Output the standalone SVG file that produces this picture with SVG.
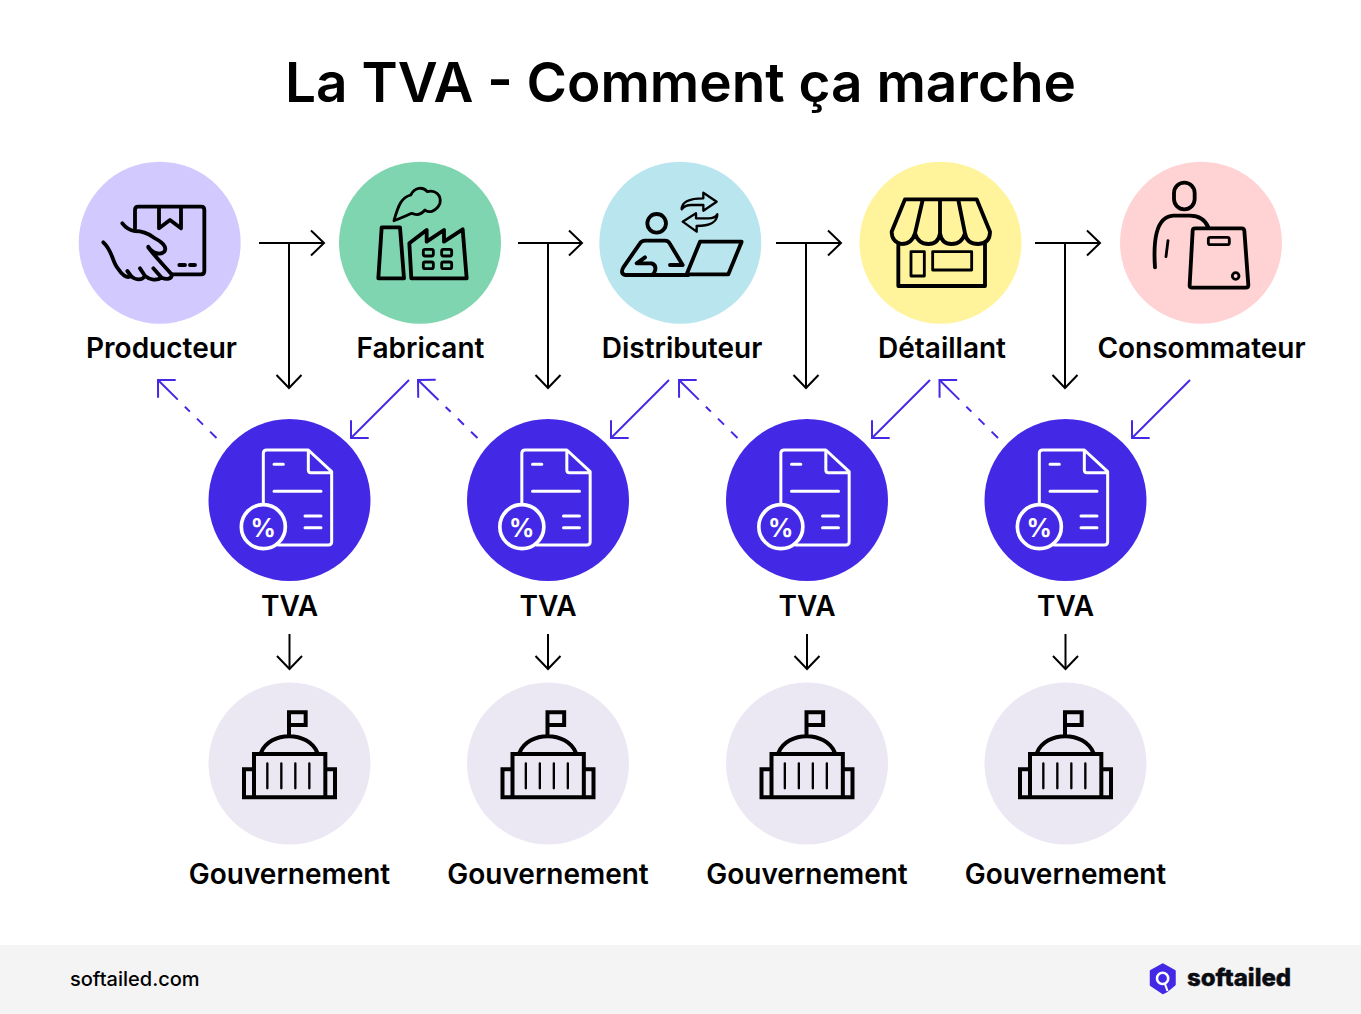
<svg xmlns="http://www.w3.org/2000/svg" width="1361" height="1014" viewBox="0 0 1361 1014">
<style>
text{font-family:Inter,"Liberation Sans",sans-serif;fill:#000}
.t{font-size:54.900px;font-weight:600;text-anchor:middle}
.l{font-size:28px;font-weight:600;text-anchor:middle}
.ic{fill:none;stroke:#000;stroke-width:11.500;stroke-linecap:round;stroke-linejoin:round}
.th{stroke-width:8.500}
.w{fill:none;stroke:#fff;stroke-width:9;stroke-linecap:round;stroke-linejoin:round}
.k{fill:none;stroke:#000;stroke-width:2}
.b{fill:none;stroke:#4329e6;stroke-width:2}
.d{stroke-dasharray:9 10 8.500 10 7 10 100}
.p{font-size:25px;font-weight:700;text-anchor:middle}
</style>
<defs>
<g id="tvaIcon" transform="translate(150 370) scale(.33333)">
<path class="w" d="M340 400V250Q340 240 350 240H475L545 305V515Q545 525 535 525H385M475 240V300Q475 308 483 308H545M372 283H400M372 364H513M465 438H513M465 473H513"/>
<circle class="w" style="stroke-width:11" cx="340" cy="470" r="66"/>
</g>
<g id="govIcon" transform="translate(200 680) scale(.33333)">
<path class="ic" style="stroke-linejoin:miter;stroke-linecap:butt;stroke-width:12" d="M267 170V97H317V135H267M183 218C210 152 325 152 352 218M162 222H376V352H162ZM162 268H132V352H405V268H376"/>
<path class="ic" style="stroke-width:7" d="M202 250V325M244 250V325M286 250V325M328 250V325"/>
</g>
<marker id="mk" viewBox="-14 -14 16 28" markerWidth="16" markerHeight="28" refX="0" refY="0" orient="auto" markerUnits="userSpaceOnUse"><path d="M-13 -12.500L0 0L-13 12.500" fill="none" stroke="#000" stroke-width="2"/></marker>
<marker id="mb" viewBox="-14 -14 16 28" markerWidth="16" markerHeight="28" refX="0" refY="0" orient="auto" markerUnits="userSpaceOnUse"><path d="M-12.500 -12.500L0 0L-12.500 12.500" fill="none" stroke="#4329e6" stroke-width="2"/></marker>
</defs>
<rect width="1361" height="1014" fill="#fff"/>
<text class="t" x="680.500" y="102">La TVA - Comment ça marche</text>

<g id="connectors">
<path class="k" marker-end="url(#mk)" d="M259 243H324"/><path class="k" marker-end="url(#mk)" d="M289 243V388"/>
<path class="k" marker-end="url(#mk)" d="M518 243H582"/><path class="k" marker-end="url(#mk)" d="M548 243V388"/>
<path class="k" marker-end="url(#mk)" d="M776 243H841"/><path class="k" marker-end="url(#mk)" d="M806 243V388"/>
<path class="k" marker-end="url(#mk)" d="M1035 243H1100"/><path class="k" marker-end="url(#mk)" d="M1065 243V388"/>
<path class="k" marker-end="url(#mk)" d="M289.500 634V669"/>
<path class="k" marker-end="url(#mk)" d="M548 634V669"/>
<path class="k" marker-end="url(#mk)" d="M807 634V669"/>
<path class="k" marker-end="url(#mk)" d="M1065.500 634V669"/>
<path class="b" marker-end="url(#mb)" d="M409 380L351 438"/>
<path class="b" marker-end="url(#mb)" d="M669 380L611 438"/>
<path class="b" marker-end="url(#mb)" d="M930 380L872 438"/>
<path class="b" marker-end="url(#mb)" d="M1190 380L1132 438"/>
<path class="b d" marker-end="url(#mb)" d="M216.500 438L158 380"/>
<path class="b d" marker-end="url(#mb)" d="M477.500 438L418 380"/>
<path class="b d" marker-end="url(#mb)" d="M737.500 438L679 380"/>
<path class="b d" marker-end="url(#mb)" d="M998 438L939.500 380"/>
</g>

<g id="producteur">
<circle cx="159.700" cy="242.700" r="81" fill="#d2c9ff"/>
<g transform="translate(95 195) scale(.33333)">
<path class="ic" d="M120 100V45Q120 35 130 35H318Q328 35 328 45V228Q328 238 318 238H232M192 38V100L225 75L258 100V38M253 210H270M285 210H300"/>
<path class="ic" d="M82 85C95 102 105 106 120 108C140 108 155 112 175 127C200 140 218 155 208 170C195 182 172 175 160 155M160 158C185 190 210 215 230 238C232 252 215 255 200 248L175 220M200 248C185 258 165 255 150 243L135 220M150 243C140 258 120 255 108 243L97 228M108 243C95 252 80 238 70 222C50 200 55 170 25 142"/>
</g>
<text class="l" x="161.500" y="358">Producteur</text>
</g>

<g id="fabricant">
<circle cx="420" cy="242.700" r="81" fill="#7fd5af"/>
<g transform="translate(70 150) scale(.33333)">
<path class="ic" d="M935 232H990L1002 385H925ZM1018 280L1070 240V275L1122 240V275L1178 238L1190 385H1024Z"/>
<path class="ic th" d="M972 212C985 165 995 142 1022 135C1035 110 1060 110 1072 125C1095 118 1115 135 1110 160C1100 185 1075 190 1065 180C1050 198 1035 195 1025 190C1005 200 990 205 972 212Z"/>
<rect class="ic th" x="1060" y="298" width="30" height="20" rx="5"/><rect class="ic th" x="1115" y="298" width="30" height="20" rx="5"/><rect class="ic th" x="1060" y="336" width="30" height="20" rx="5"/><rect class="ic th" x="1115" y="336" width="30" height="20" rx="5"/>
</g>
<text class="l" x="420.500" y="358">Fabricant</text>
</g>

<g id="distributeur">
<circle cx="680.300" cy="242.700" r="81" fill="#b9e5ee"/>
<g transform="translate(590 150) scale(.33333)">
<circle class="ic" cx="200" cy="220" r="28"/>
<path class="ic" d="M105 375Q90 370 100 352L150 280Q155 272 165 272H225Q235 272 240 282L278 345H240M105 375H295M165 322L140 340H185Q200 345 195 362Q192 375 180 375M330 275H455L415 373H290Z"/>
<path class="ic" style="stroke-width:7" d="M275 178C275 155 300 145 340 145V128L380 155L340 182V165H305C290 165 280 170 275 178ZM382 193C382 215 360 228 320 228V245L278 215L318 190V205H355C370 205 378 200 382 193Z"/>
</g>
<text class="l" x="682" y="358">Distributeur</text>
</g>

<g id="detaillant">
<circle cx="940.500" cy="242.700" r="81" fill="#fff39b"/>
<g transform="translate(590 150) scale(.33333)">
<path class="ic" d="M945 148H1160L1200 245Q1200 280 1165 282Q1130 282 1125 250Q1115 282 1085 282Q1055 282 1050 250Q1045 282 1015 282Q985 282 975 250Q965 282 935 282Q905 275 905 245ZM998 150L975 250M1050 150V250M1105 150L1125 250M925 282V408H1185V282"/>
<rect class="ic th" x="963" y="305" width="40" height="73"/><rect class="ic th" x="1028" y="305" width="117" height="55"/>
</g>
<text class="l" x="942" y="358">Détaillant</text>
</g>

<g id="consommateur">
<circle cx="1201" cy="242.700" r="81" fill="#ffd3d3"/>
<g transform="translate(1030 150) scale(.33333)">
<rect class="ic" x="432" y="98" width="62" height="80" rx="31"/>
<path class="ic" d="M375 352C370 280 375 200 430 197H480Q520 197 535 232M495 235H635Q642 235 643 242L655 405Q655 413 647 413H486Q478 413 479 405L488 242Q488 235 495 235Z"/>
<path class="ic th" d="M414 272L408 320"/>
<rect class="ic th" x="535" y="262" width="63" height="22" rx="6"/><circle class="ic th" cx="617" cy="378" r="10"/>
</g>
<text class="l" x="1201.500" y="358">Consommateur</text>
</g>

<g id="tva1"><circle cx="289.500" cy="500" r="81" fill="#4329e6"/><use href="#tvaIcon"/><text class="p" x="263.300" y="537" style="fill:#fff">%</text><text class="l" x="289.500" y="616">TVA</text></g>
<g id="tva2"><circle cx="548" cy="500" r="81" fill="#4329e6"/><use href="#tvaIcon" x="258.500"/><text class="p" x="521.800" y="537" style="fill:#fff">%</text><text class="l" x="548" y="616">TVA</text></g>
<g id="tva3"><circle cx="807" cy="500" r="81" fill="#4329e6"/><use href="#tvaIcon" x="517.500"/><text class="p" x="780.800" y="537" style="fill:#fff">%</text><text class="l" x="807" y="616">TVA</text></g>
<g id="tva4"><circle cx="1065.500" cy="500" r="81" fill="#4329e6"/><use href="#tvaIcon" x="776"/><text class="p" x="1039.300" y="537" style="fill:#fff">%</text><text class="l" x="1065.500" y="616">TVA</text></g>

<g id="gov1"><circle cx="289.500" cy="763.500" r="81" fill="#ebe8f4"/><use href="#govIcon"/><text class="l" x="289.500" y="884">Gouvernement</text></g>
<g id="gov2"><circle cx="548" cy="763.500" r="81" fill="#ebe8f4"/><use href="#govIcon" x="258.500"/><text class="l" x="548" y="884">Gouvernement</text></g>
<g id="gov3"><circle cx="807" cy="763.500" r="81" fill="#ebe8f4"/><use href="#govIcon" x="517.500"/><text class="l" x="807" y="884">Gouvernement</text></g>
<g id="gov4"><circle cx="1065.500" cy="763.500" r="81" fill="#ebe8f4"/><use href="#govIcon" x="776"/><text class="l" x="1065.500" y="884">Gouvernement</text></g>

<g id="footer">
<rect y="945" width="1361" height="69" fill="#f4f4f4"/>
<text x="70" y="986" font-size="20" font-weight="500">softailed.com</text>
<path d="M1162.800 964.500L1174.500 971V984.500L1166 991.500L1163 993L1151 985V971Z" fill="#4329e6" stroke="#4329e6" stroke-width="2.500" stroke-linejoin="round"/>
<circle cx="1162.600" cy="978.400" r="5.600" fill="none" stroke="#fff" stroke-width="2.600"/>
<path d="M1165 984L1167.500 991" stroke="#fff" stroke-width="2.200" fill="none"/>
<text x="1187" y="986" font-size="24" font-weight="800" style="fill:#0b0b12;stroke:#0b0b12;stroke-width:.4">softailed</text>
</g>
</svg>
